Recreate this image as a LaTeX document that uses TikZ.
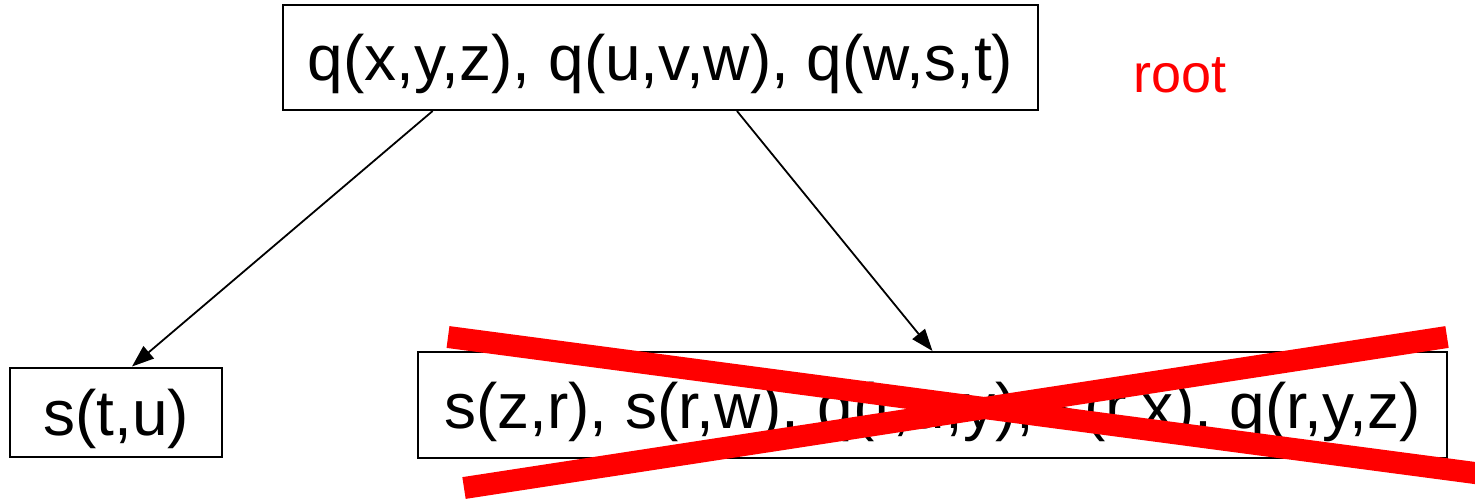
\documentclass[tikz,border=0pt]{standalone}
\usepackage{fontspec}
\setmainfont{Liberation Sans}
\usetikzlibrary{arrows.meta,calc}
\newcommand{\grand}[0]{\fontsize{32}{38}\selectfont}
\newcommand{\barre}[2]{\draw[red, line width=11pt] (#1) -- (#2)}

\begin{document}
\begin{tikzpicture}[x=0.5pt,y=-0.5pt,
	atom/.style={draw, line width=1pt, inner sep=0pt, font=\grand,
		text height=23pt, text depth=0pt},
	fleche/.style={-{Triangle[length=11pt,width=8pt]}, line width=0.9pt}]
	\useasboundingbox (0,0) rectangle (1475,503);
	\node[atom, minimum width=377.5pt, minimum height=52.5pt] (racine) at (660.5,57.5)
		{q(x,y,z), q(u,v,w), q(w,s,t)};
	\node[atom, minimum width=106pt, minimum height=44.5pt] (gauche) at (116,412) {s(t,u)};
	\node[atom, minimum width=514.5pt, minimum height=53pt] (droite) at (932.5,405)
		{s(z,r), s(r,w), q(t,u,y), s(r,x), q(r,y,z)};
	\node[red, font=\fontsize{27}{32}\selectfont] (nom) at (1180,75) {root};
	\draw[fleche] ($(racine.south west)!0.199!(racine.south east)$) -- ([xshift=8pt]gauche.north);
	\draw[fleche] ($(racine.south west)!0.601!(racine.south east)$) -- (droite.north);
	% the cross
	\barre{448,337}{1490,475};
	\barre{464,488}{1447,337};
\end{tikzpicture}
\end{document}
